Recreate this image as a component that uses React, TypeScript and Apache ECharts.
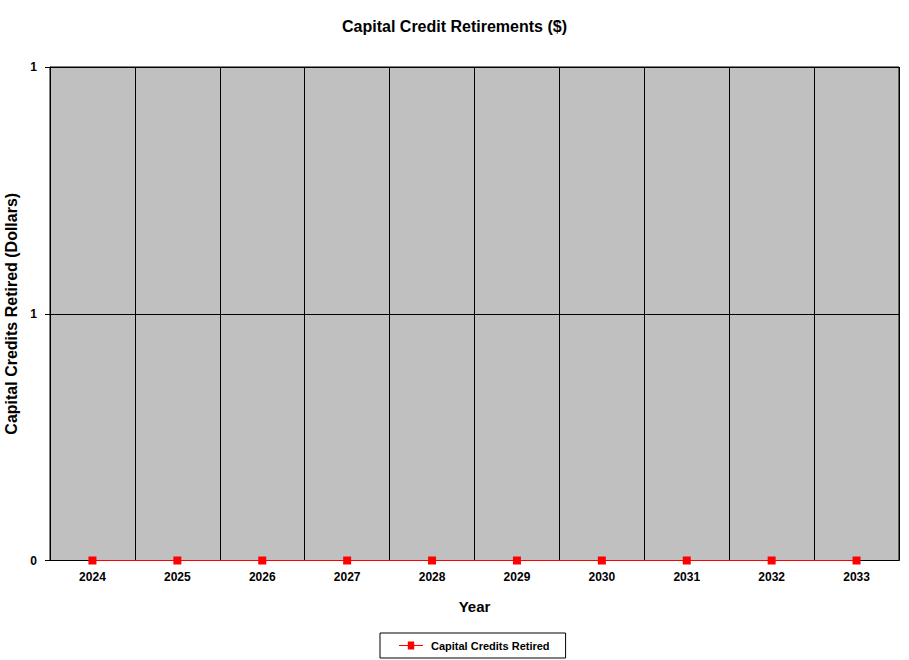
import React, { useEffect, useRef } from "react";
import * as echarts from "echarts";

const years = ["2024", "2025", "2026", "2027", "2028", "2029", "2030", "2031", "2032", "2033"];
const retired = [0, 0, 0, 0, 0, 0, 0, 0, 0, 0];
const seriesName = "Capital Credits Retired";
const FONT = "'Liberation Sans', Arial, sans-serif";

export default function App() {
  const ref = useRef<HTMLDivElement>(null);
  useEffect(() => {
    document.body.style.margin = "0";
    const chart = echarts.init(ref.current!, null, { renderer: "svg" });
    chart.setOption({
      animation: false,
      backgroundColor: "#ffffff",
      textStyle: { fontFamily: FONT },
      title: {
        text: "Capital Credit Retirements ($)",
        left: "center",
        top: 13,
        textStyle: { fontFamily: FONT, fontSize: 16, fontWeight: "bold", color: "#000" },
      },
      grid: {
        left: 50,
        right: 10,
        top: 67,
        bottom: 99.5,
        containLabel: false,
        outerBoundsMode: "none",
        show: true,
        backgroundColor: "#c0c0c0",
        borderColor: "#000",
        borderWidth: 1,
      },
      legend: {
        top: 633,
        left: 380,
        data: [{ name: seriesName }],
        icon: "path://M0,4.5 L11,4.5 L11,0 L19,0 L19,4.5 L30,4.5 L30,5.5 L19,5.5 L19,10 L11,10 L11,5.5 L0,5.5 Z",
        itemWidth: 30,
        itemHeight: 8,
        itemGap: 4,
        borderColor: "#000",
        borderWidth: 1,
        borderRadius: 0,
        padding: [7, 16, 7, 19],
        textStyle: { fontFamily: FONT, fontSize: 11, fontWeight: "bold", color: "#000" },
      },
      xAxis: {
        type: "category",
        data: years,
        boundaryGap: true,
        name: "Year",
        nameLocation: "middle",
        nameGap: 38,
        nameTextStyle: { fontFamily: FONT, fontSize: 15, fontWeight: "bold", color: "#000" },
        axisLine: { lineStyle: { color: "#000", width: 1 } },
        axisTick: { show: false },
        axisLabel: { fontFamily: FONT, fontSize: 12, fontWeight: "bold", color: "#000", margin: 10 },
        splitLine: { show: true, lineStyle: { color: "#000", width: 1 } },
      },
      yAxis: {
        type: "value",
        min: 0,
        max: 1,
        interval: 0.5,
        name: "Capital Credits Retired (Dollars)",
        nameLocation: "middle",
        nameGap: 29,
        nameTextStyle: { fontFamily: FONT, fontSize: 16, fontWeight: "bold", color: "#000" },
        axisLine: { show: true, lineStyle: { color: "#000", width: 1 } },
        axisTick: { show: true, length: 5, lineStyle: { color: "#000" } },
        axisLabel: {
          fontFamily: FONT,
          fontSize: 12,
          fontWeight: "bold",
          color: "#000",
          margin: 13,
          formatter: (v: number) => String(Math.round(v)),
        },
        splitLine: { show: true, lineStyle: { color: "#000", width: 1 } },
      },
      series: [
        {
          name: seriesName,
          type: "line",
          data: retired,
          symbol: "rect",
          symbolSize: 8,
          clip: false,
          z: 10,
          itemStyle: { color: "#ff0000" },
          lineStyle: { color: "#ff0000", width: 1 },
        },
      ],
    });
    return () => chart.dispose();
  }, []);
  return <div ref={ref} style={{ width: 909, height: 660 }} />;
}
